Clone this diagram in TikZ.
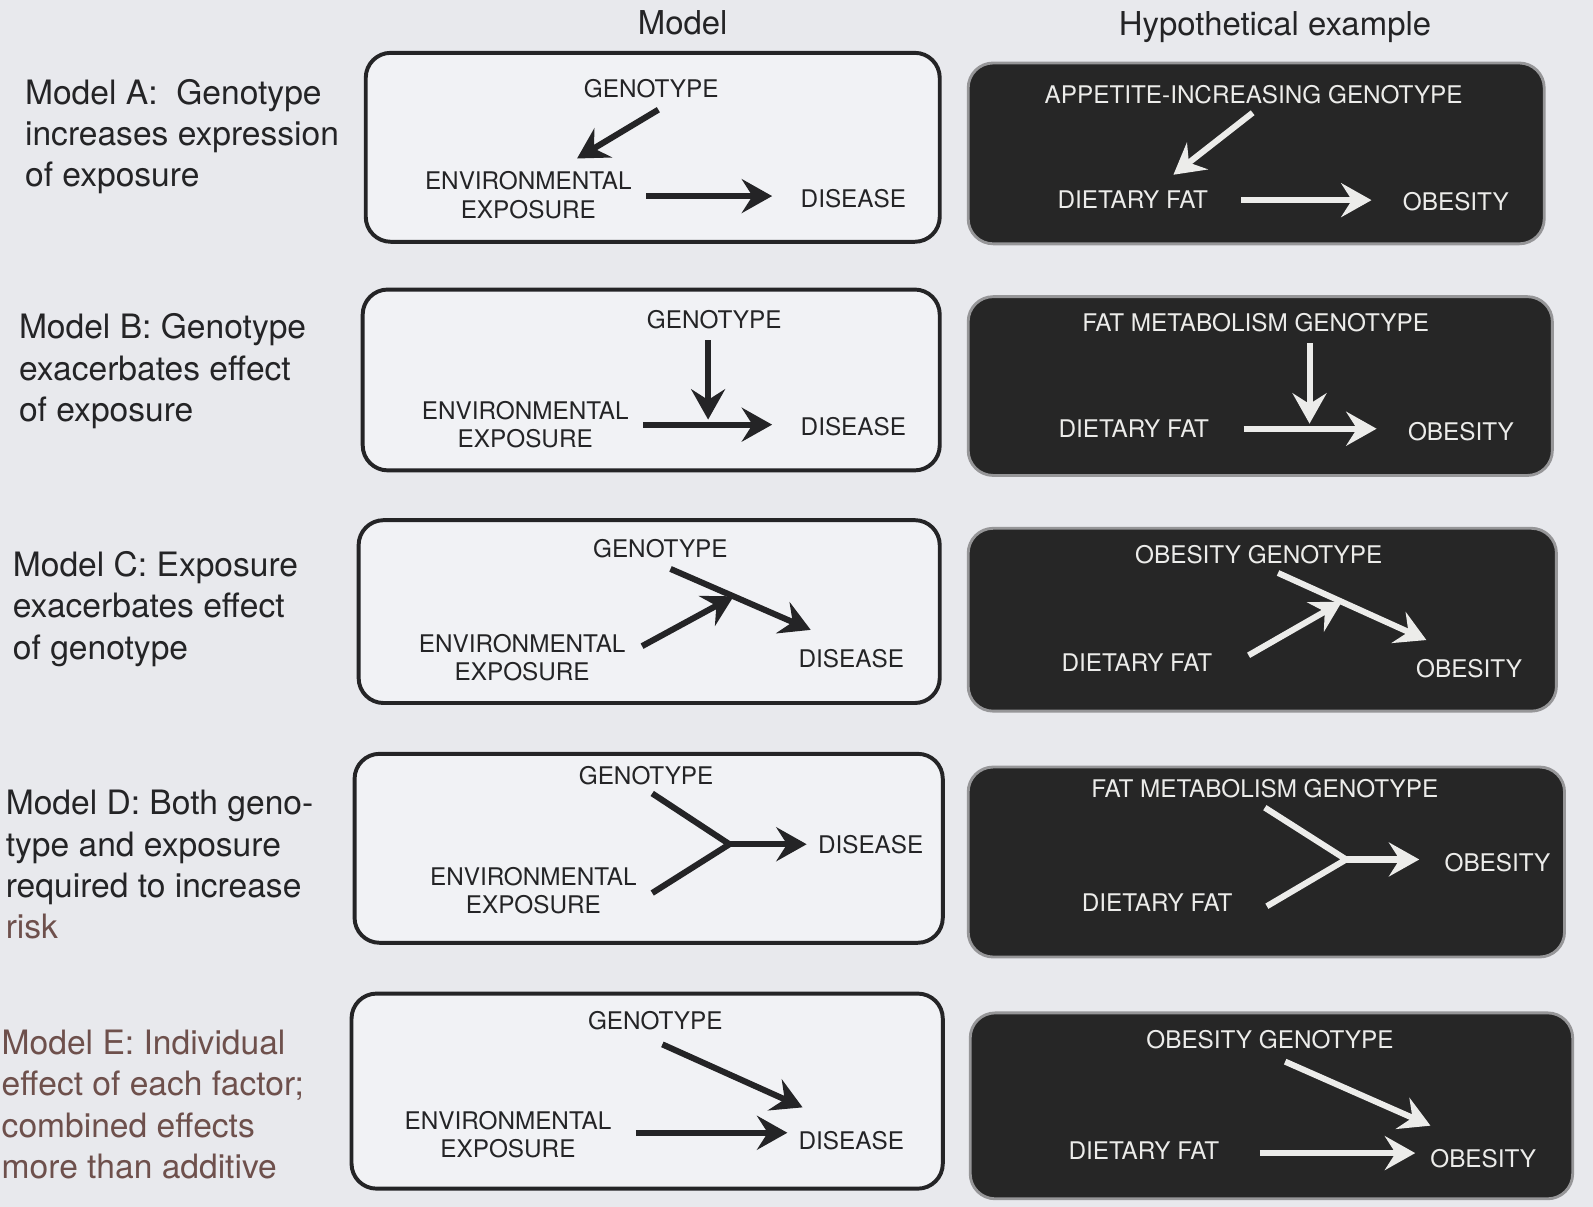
\documentclass[tikz,border=0pt]{standalone}
\usepackage{fontspec}
\setmainfont{TeX Gyre Heros}
\usepackage{xcolor}
\definecolor{ink}{RGB}{36,36,38}
\definecolor{page}{RGB}{232,233,237}
\definecolor{boxfill}{RGB}{241,242,245}
\definecolor{night}{RGB}{38,38,38}
\definecolor{chalk}{RGB}{236,236,234}
\definecolor{rim}{RGB}{150,150,152}
\definecolor{rust}{RGB}{110,80,76}
\usepackage{tikz}
\usetikzlibrary{calc}
\usetikzlibrary{arrows.meta}
\newcommand{\termfont}{\fontsize{6.8pt}{7.9pt}\selectfont}
\newcommand{\sidefont}{\fontsize{9.4pt}{11.6pt}\selectfont}
\newcommand{\headfont}{\fontsize{9.2pt}{11pt}\selectfont}
\newcommand{\env}{ENVIRONMENTAL\\EXPOSURE}
\tikzset{
    term/.style={font=\termfont, text=ink, align=center, inner sep=1pt},
    nightterm/.style={term, text=chalk},
    head/.style={font=\headfont, text=ink, inner sep=0pt},
    side/.style={font=\sidefont, text=ink, align=left, anchor=north west, inner sep=0pt},
    panel/.style={draw=ink, line width=1.1pt, fill=boxfill, rounded corners=7pt},
    nightpanel/.style={draw=rim, line width=0.8pt, fill=night, rounded corners=7pt},
    bar/.style={line width=1.7pt, draw=ink, line join=miter},
    nightbar/.style={bar, draw=chalk},
    arr/.style={bar, -{Stealth[length=8.5pt, width=9.5pt, inset=3pt]}},
    nightarr/.style={arr, draw=chalk}
}
\begin{document}
\begin{tikzpicture}[x=0.01cm, y=-0.01cm]
    \useasboundingbox (0,0) rectangle (1568,1188);
    \fill[page] (0,0) rectangle (1568,1188);

    \path
        (672,22) node[head] (HM) {Model}
        (1255,27) node[head] (HH) {Hypothetical example};

    \path
        (24,77) node[side] (LA) {Model A:\ \ Genotype\\increases expression\\of exposure}
        (18,308) node[side] (LB) {Model B: Genotype\\exacerbates effect\\of exposure}
        (12,542) node[side] (LC) {Model C: Exposure\\exacerbates effect\\of genotype}
        (5,777) node[side] (LD) {Model D: Both geno-\\type and exposure\\required to increase\\\textcolor{rust}{risk}}
        (1,1013) node[side, text=rust] (LE) {Model E: Individual\\effect of each factor;\\combined effects\\more than additive};

    \draw[panel] (360,52) rectangle (925,238);
    \draw[panel] (357,285) rectangle (925,463);
    \draw[panel] (353,512) rectangle (925,692);
    \draw[panel] (349,742) rectangle (928,928);
    \draw[panel] (346,978) rectangle (928,1170);

    \draw[nightpanel] (953,62) rectangle (1520,240);
    \draw[nightpanel] (953,292) rectangle (1528,468);
    \draw[nightpanel] (953,520) rectangle (1532,700);
    \draw[nightpanel] (953,755) rectangle (1540,942);
    \draw[nightpanel] (955,997) rectangle (1548,1180);

    % model A
    \path
        (641,87) node[term] (GA) {GENOTYPE}
        (520,192) node[term] (EA) {\env}
        (840,196) node[term] (DA) {DISEASE};
    \draw[arr] ($(GA)+(7,21)$) -- ($(EA)+(48,-36)$);
    \draw[arr] ($(EA)+(116,1)$) -- ($(DA)+(-80,-3)$);

    \path
        (1234,93) node[nightterm] (GAn) {APPETITE-INCREASING GENOTYPE}
        (1115,197) node[nightterm] (EAn) {DIETARY FAT}
        (1433,198) node[nightterm] (DAn) {OBESITY};
    \draw[nightarr] ($(GAn)+(-1,18)$) -- ($(EAn)+(40,-25)$);
    \draw[nightarr] ($(EAn)+(107,0)$) -- ($(DAn)+(-83,-1)$);

    % model B
    \path
        (703,315) node[term] (GB) {GENOTYPE}
        (517,418) node[term] (EB) {\env}
        (840,420) node[term] (DB) {DISEASE};
    \draw[arr] ($(GB)+(-6,20)$) -- ($(EB)+(180,-5)$);
    \draw[arr] ($(EB)+(116,0)$) -- ($(DB)+(-80,-2)$);

    \path
        (1236,318) node[nightterm] (GBn) {FAT METABOLISM GENOTYPE}
        (1116,422) node[nightterm] (EBn) {DIETARY FAT}
        (1438,425) node[nightterm] (DBn) {OBESITY};
    \draw[nightarr] ($(GBn)+(53,20)$) -- ($(EBn)+(173,-5)$);
    \draw[nightarr] ($(EBn)+(108,0)$) -- ($(DBn)+(-83,-3)$);

    % model C
    \path
        (650,540) node[term] (GC) {GENOTYPE}
        (514,647) node[term] (EC) {\env}
        (838,648) node[term] (DC) {DISEASE};
    \coordinate (GCs) at ($(GC)+(10,20)$);
    \coordinate (DCt) at ($(DC)+(-40,-28)$);
    \coordinate (MC) at ($(GCs)!0.45!(DCt)$);
    \draw[arr] (GCs) -- (DCt);
    \draw[arr] ($(EC)+(118,-11)$) -- (MC);

    \path
        (1239,546) node[nightterm] (GCn) {OBESITY GENOTYPE}
        (1119,652) node[nightterm] (ECn) {DIETARY FAT}
        (1446,658) node[nightterm] (DCn) {OBESITY};
    \coordinate (GCns) at ($(GCn)+(19,18)$);
    \coordinate (DCnt) at ($(DCn)+(-42,-28)$);
    \coordinate (MCn) at ($(GCns)!0.43!(DCnt)$);
    \draw[nightarr] (GCns) -- (DCnt);
    \draw[nightarr] ($(ECn)+(110,-7)$) -- (MCn);

    % model D
    \path
        (636,763) node[term] (GD) {GENOTYPE}
        (525,877) node[term] (ED) {\env}
        (857,831) node[term] (DD) {DISEASE};
    \coordinate (JD) at ($(DD)+(-139,0)$);
    \draw[bar] ($(GD)+(6,18)$) -- (JD) -- ($(ED)+(117,2)$);
    \draw[arr] (JD) -- ($(DD)+(-63,0)$);

    \path
        (1245,776) node[nightterm] (GDn) {FAT METABOLISM GENOTYPE}
        (1139,888) node[nightterm] (EDn) {DIETARY FAT}
        (1474,849) node[nightterm] (DDn) {OBESITY};
    \coordinate (JDn) at ($(DDn)+(-149,-3)$);
    \draw[nightbar] ($(GDn)+(0,19)$) -- (JDn) -- ($(EDn)+(108,4)$);
    \draw[nightarr] (JDn) -- ($(DDn)+(-77,-3)$);

    % model E
    \path
        (645,1005) node[term] (GE) {GENOTYPE}
        (500,1117) node[term] (EE) {\env}
        (838,1123) node[term] (DE) {DISEASE};
    \draw[arr] ($(GE)+(7,23)$) -- ($(DE)+(-48,-33)$);
    \draw[arr] ($(EE)+(126,-2)$) -- ($(DE)+(-63,-8)$);

    \path
        (1250,1023) node[nightterm] (GEn) {OBESITY GENOTYPE}
        (1126,1133) node[nightterm] (EEn) {DIETARY FAT}
        (1460,1140) node[nightterm] (DEn) {OBESITY};
    \draw[nightarr] ($(GEn)+(15,22)$) -- ($(DEn)+(-52,-32)$);
    \draw[nightarr] ($(EEn)+(114,2)$) -- ($(DEn)+(-67,-5)$);
\end{tikzpicture}
\end{document}
